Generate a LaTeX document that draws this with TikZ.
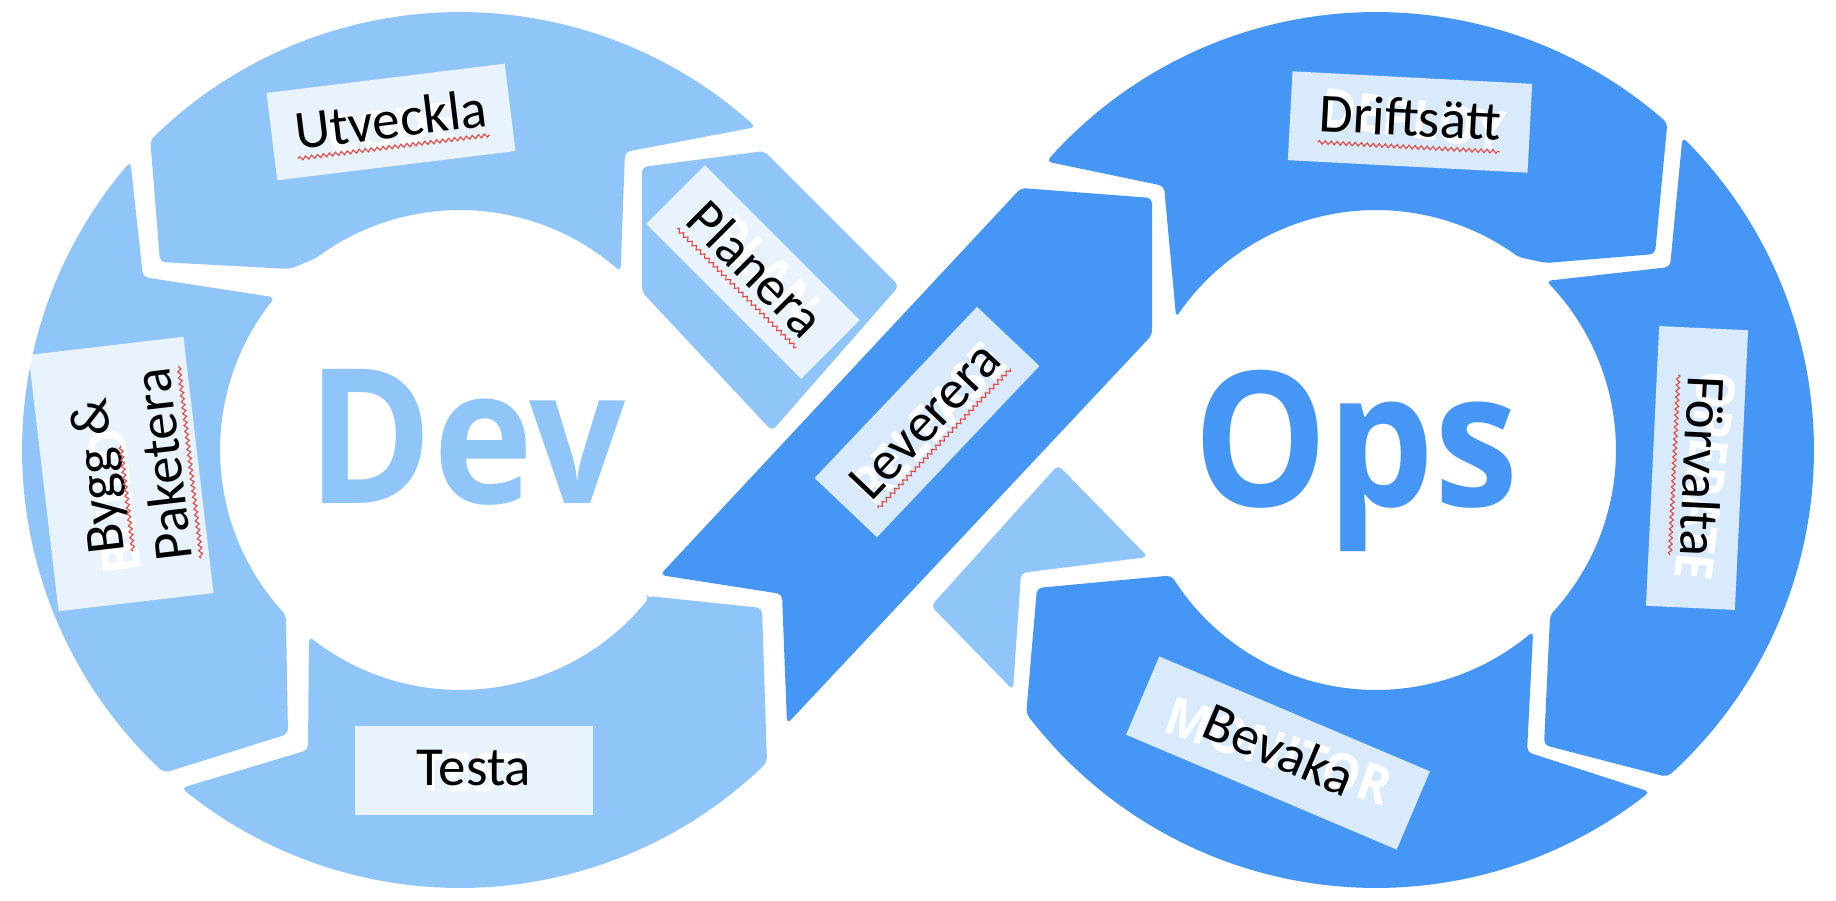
\documentclass[tikz,border=0pt]{standalone}
\usepackage{fontspec}
\setmainfont{Carlito}
\newfontfamily\bigsans{Open Sans}
\usetikzlibrary{calc,decorations.pathmorphing}
\definecolor{lightb}{RGB}{143,197,248}
\definecolor{darkb}{RGB}{69,150,245}
\definecolor{squigred}{RGB}{232,70,60}
\tikzset{
  seg/.style={rounded corners=5pt},
  lightseg/.style={seg, fill=lightb},
  darkseg/.style={seg, fill=darkb},
  lbox/.style={fill=white, fill opacity=0.8, draw=none, inner sep=0pt},
  word/.style={inner sep=0pt, anchor=base, text=black, font=\fontsize{55}{66}\selectfont},
  ghost/.style={inner sep=0pt, text=white, xscale=0.9, font={\bigsans\bfseries\fontsize{53}{60}\selectfont}},
  bigword/.style={inner sep=0pt, anchor=base, xscale=0.9, font={\bigsans\bfseries\fontsize{188}{200}\selectfont}},
  squig/.style={draw=squigred, line width=1.1pt, decorate, decoration={zigzag, amplitude=1.8pt, segment length=6pt}},
}
\begin{document}
\begin{tikzpicture}[x=1pt,y=-1pt]
\useasboundingbox (0,0) rectangle (1836,900);
\fill[white] (0,0) rectangle (1836,900);

% ---------- Dev loop ----------
% Planera (band piece, Dev side)
\fill[lightseg] (642,167) -- (764,151) -- (899,286) -- (772,431) -- (642,292) -- cycle;
% Utveckla
\fill[lightseg] (625,152)
  -- plot[domain=-47.5:-135,samples=60,variable=\t] ({460+438*cos(\t)},{450+438*sin(\t)})
  -- (160,262) -- (290,269)
  -- plot[domain=-127:-48,samples=50,variable=\t] ({460+240*cos(\t)},{450+240*sin(\t)})
  -- cycle;
% Bygg & Paketera
\fill[lightseg] (143,277)
  -- plot[domain=-138.8:-227.5,samples=60,variable=\t] ({460+438*cos(\t)},{450+438*sin(\t)})
  -- (288,734)
  -- plot[domain=136.5:219.5,samples=50,variable=\t] ({460+240*cos(\t)},{450+240*sin(\t)})
  -- cycle;
% Testa
\fill[lightseg] (308,750)
  -- plot[domain=129.5:45.5,samples=60,variable=\t] ({460+438*cos(\t)},{450+438*sin(\t)})
  -- (762,608) -- (648,596)
  -- plot[domain=37.8:129,samples=50,variable=\t] ({460+240*cos(\t)},{450+240*sin(\t)})
  -- cycle;
% Leverera (dark band)
\fill[darkseg] (660,575) -- (782,594) -- (787,724) -- (1152,335) -- (1152,198) -- (1021,188) -- cycle;

% ---------- Ops loop ----------
% Planera band tail on Ops side
\fill[lightseg] (931,606) -- (1058,465) -- (1148,557) -- (1021,573) -- (1013,690) -- cycle;
% Driftsatt
\fill[darkseg] (1164,186)
  -- plot[domain=-138.8:-48.3,samples=60,variable=\t] ({1376+438*cos(\t)},{450+438*sin(\t)})
  -- (1655,254) -- (1546,263)
  -- plot[domain=-53.5:-146.4,samples=50,variable=\t] ({1376+240*cos(\t)},{450+240*sin(\t)})
  -- cycle;
% Forvalta
\fill[darkseg] (1670,267)
  -- plot[domain=-45.6:48.3,samples=60,variable=\t] ({1376+438*cos(\t)},{450+438*sin(\t)})
  -- (1544,745)
  -- plot[domain=43.5:-44.8,samples=50,variable=\t] ({1376+240*cos(\t)},{450+240*sin(\t)})
  -- cycle;
% Bevaka
\fill[darkseg] (1527,752)
  -- plot[domain=51.3:143,samples=60,variable=\t] ({1376+438*cos(\t)},{450+438*sin(\t)})
  -- (1037,588)
  -- plot[domain=148.5:49.1,samples=50,variable=\t] ({1376+240*cos(\t)},{450+240*sin(\t)})
  -- cycle;

% ---------- Dev / Ops ----------
\node[bigword, text=lightb] (dev) at (467,503) {Dev};
\node[bigword, text=darkb] (ops) at (1356,506) {Ops};

% ---------- labels ----------
\begin{scope}[shift={(391,122)},rotate=7,transform shape]
  \node[ghost] (gcode) at (0,6) {CODE};
  \node[lbox,minimum width=240,minimum height=88] (butv) at (0,0) {};
  \node[word] (utv) at (0,16) {Utveckla};
  \draw[squig] ($(utv.base west)!9pt!-90:(utv.base east)$) -- ($(utv.base east)!9pt!90:(utv.base west)$);
\end{scope}

\begin{scope}[shift={(753,272)},rotate=-45,transform shape]
  \node[ghost] (gplan) at (8,-10) {PLAN};
  \node[lbox,minimum width=219,minimum height=83] (bpla) at (0,0) {};
  \node[word] (pla) at (0,14) {Planera};
  \draw[squig] ($(pla.base west)!9pt!-90:(pla.base east)$) -- ($(pla.base east)!9pt!90:(pla.base west)$);
\end{scope}

\begin{scope}[shift={(121,474)},rotate=96.7,transform shape]
  \node[ghost] (gbuild) at (-26,-10) {BUILD};
  \node[lbox,minimum width=258,minimum height=156] (bbyg) at (0,0) {};
  \node[word,anchor=base west] (byg) at (-78,-6) {Bygg};
  \node[word,anchor=base east] (amp) at (78,-6) {\&};
  \node[word] (pak) at (4,61) {Paketera};
  \draw[squig] ($(byg.base west)!9pt!-90:(byg.base east)$) -- ($(byg.base east)!9pt!90:(byg.base west)$);
  \draw[squig] ($(pak.base west)!9pt!-90:(pak.base east)$) -- ($(pak.base east)!9pt!90:(pak.base west)$);
\end{scope}

\begin{scope}[shift={(474,770)}]
  \node[ghost] (gtest) at (-2,3) {TEST};
  \node[lbox,minimum width=238,minimum height=89] (btes) at (0,0) {};
  \node[word] (tes) at (0,15) {Testa};
\end{scope}

\begin{scope}[shift={(927,422)},rotate=46.5,transform shape]
  \node[ghost] (grel) at (0,2) {RELEASE};
  \node[lbox,minimum width=236,minimum height=86] (blev) at (0,0) {};
  \node[word] (lev) at (0,15) {Leverera};
  \draw[squig] ($(lev.base west)!9pt!-90:(lev.base east)$) -- ($(lev.base east)!9pt!90:(lev.base west)$);
\end{scope}

\begin{scope}[shift={(1410,122)},rotate=-3,transform shape]
  \node[ghost,rotate=-4] (gdep) at (3,-3) {DEPLOY};
  \node[lbox,minimum width=240,minimum height=89] (bdri) at (0,0) {};
  \node[word] (dri) at (0,14) {Driftsätt};
  \draw[squig] ($(dri.base west)!11pt!-90:(dri.base east)$) -- ($(dri.base east)!11pt!90:(dri.base west)$);
\end{scope}

\begin{scope}[shift={(1697,468)},rotate=-92.7,transform shape]
  \node[ghost,rotate=-4] (gope) at (7,-9) {OPERATE};
  \node[lbox,minimum width=280,minimum height=89] (bfor) at (0,0) {};
  \node[word] (for) at (-2,13) {Förvalta};
  \draw[squig] ($(for.base west)!10pt!-90:(for.base east)$) -- ($(for.base east)!10pt!90:(for.base west)$);
\end{scope}

\begin{scope}[shift={(1278,753)},rotate=-23,transform shape]
  \node[ghost,rotate=4] (gmon) at (0,-2) {MONITOR};
  \node[lbox,minimum width=294,minimum height=85] (bbev) at (0,0) {};
  \node[word] (bev) at (0,15) {Bevaka};
\end{scope}
\end{tikzpicture}
\end{document}
